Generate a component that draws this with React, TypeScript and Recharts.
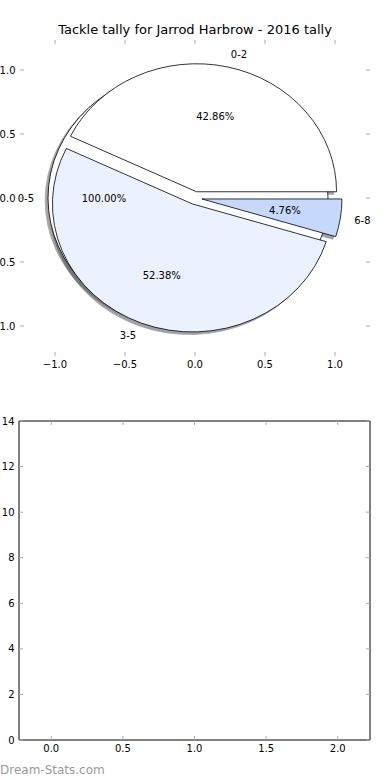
import { ComposedChart, XAxis, YAxis, PieChart, Pie } from 'recharts';

// tick values
const pieTicks = [-1, -0.5, 0, 0.5, 1];
const binTicks = [0, 0.5, 1, 1.5, 2];
const countTicks = [0, 2, 4, 6, 8, 10, 12, 14];

// tackle tally slices
const tallyBins = ['0-2', '3-5', '6-8'];
const tallyCounts = [9, 11, 1];
const tallyColors = ['#ffffff', '#ebf1fd', '#c6d9fc'];

// the single-wedge pie drawn underneath
const totalBins = ['0-5'];
const totalCounts = [21];
const totalColors = ['#ffffff'];

const FONT = '"DejaVu Sans", Verdana, sans-serif';
const RAD = Math.PI / 180;
const SQUASH = 128 / 140; // y px per unit / x px per unit in the pie axes
const EXPLODE = 0.05;
const TICK = '#aaaaaa';

const tallyData = tallyBins.map((name, i) => ({ name, value: tallyCounts[i], fill: tallyColors[i] }));
const totalData = totalBins.map((name, i) => ({ name, value: totalCounts[i], fill: totalColors[i] }));
// the axes carry no series, the tick rows just give the x axis something to hang on
const pieAxisRows = pieTicks.map((v) => ({ v }));
const binAxisRows = binTicks.map((v) => ({ v }));

function pt(cx: number, cy: number, r: number, a: number) {
  return [cx + r * Math.cos(a * RAD), cy - r * SQUASH * Math.sin(a * RAD)];
}

function wedgePath(cx: number, cy: number, r: number, a0: number, a1: number) {
  const rx = r;
  const ry = r * SQUASH;
  if (a1 - a0 >= 359.99) {
    return `M${cx + rx},${cy} A${rx},${ry} 0 1 0 ${cx - rx},${cy} A${rx},${ry} 0 1 0 ${cx + rx},${cy} Z`;
  }
  const [x0, y0] = pt(cx, cy, r, a0);
  const [x1, y1] = pt(cx, cy, r, a1);
  const large = a1 - a0 > 180 ? 1 : 0;
  return `M${cx},${cy} L${x0},${y0} A${rx},${ry} 0 ${large} 0 ${x1},${y1} Z`;
}

function darken(hex: string) {
  const n = parseInt(hex.slice(1), 16);
  const r = Math.round(((n >> 16) & 255) * 0.3);
  const g = Math.round(((n >> 8) & 255) * 0.3);
  const b = Math.round((n & 255) * 0.3);
  return `rgb(${r},${g},${b})`;
}

const explodedCenter = (p: any) => {
  const [x, y] = pt(p.cx, p.cy, p.outerRadius * EXPLODE, p.midAngle);
  return [x, y];
};

const Wedge = (p: any) => {
  const [x, y] = explodedCenter(p);
  const a0 = Math.min(p.startAngle, p.endAngle);
  const a1 = Math.max(p.startAngle, p.endAngle);
  return <path d={wedgePath(x, y, p.outerRadius, a0, a1)} fill={p.fill} stroke="#000" strokeWidth={0.8} />;
};

const WedgeShadow = (p: any) => {
  const [x, y] = explodedCenter(p);
  const a0 = Math.min(p.startAngle, p.endAngle);
  const a1 = Math.max(p.startAngle, p.endAngle);
  const ox = -0.02 * p.outerRadius;
  const oy = 0.02 * p.outerRadius * SQUASH;
  const c = darken(p.payload?.fill ?? p.fill ?? '#ffffff');
  return (
    <path d={wedgePath(x + ox, y + oy, p.outerRadius, a0, a1)} fill={c} stroke={c} strokeWidth={0.8} opacity={0.5} />
  );
};

const Nothing = () => <g />;

const renderPieLabel = (p: any) => {
  const r = p.outerRadius;
  const [nx, ny] = pt(p.cx, p.cy, r * (1.1 + EXPLODE), p.midAngle);
  const [qx, qy] = pt(p.cx, p.cy, r * (0.6 + EXPLODE), p.midAngle);
  const name = p.payload?.name ?? p.name;
  return (
    <g key={`lbl-${name}`}>
      <text x={nx} y={ny} dy="0.36em" textAnchor={nx > p.cx ? 'start' : 'end'} fontSize={10} fill="#000" fontFamily={FONT}>
        {name}
      </text>
      <text x={qx} y={qy} dy="0.36em" textAnchor="middle" fontSize={10} fill="#000" fontFamily={FONT}>
        {(p.percent * 100).toFixed(2)}%
      </text>
    </g>
  );
};

const fmtPie = (v: number) => v.toFixed(1).replace('-', '\u2212');
const fmtInt = (v: number) => String(v);

const BottomTick = ({ x, y, payload, fmt }: any) => (
  <g>
    <line x1={x} y1={y} x2={x} y2={y - 4} stroke={TICK} />
    <text x={x} y={y + 12} textAnchor="middle" fontSize={10} fill="#000" fontFamily={FONT}>
      {fmt(payload.value)}
    </text>
  </g>
);

const TopTick = ({ x, y }: any) => <line x1={x} y1={y} x2={x} y2={y + 4} stroke={TICK} />;

const LeftTick = ({ x, y, payload, fmt }: any) => (
  <g>
    <line x1={x} y1={y} x2={x + 4} y2={y} stroke={TICK} />
    <text x={x - 4.5} y={y + 3.6} textAnchor="end" fontSize={10} fill="#000" fontFamily={FONT}>
      {fmt(payload.value)}
    </text>
  </g>
);

const RightTick = ({ x, y }: any) => <line x1={x - 4} y1={y} x2={x} y2={y} stroke={TICK} />;

const axisCommon = {
  type: 'number' as const,
  tickSize: 0,
  tickMargin: 0,
  tickLine: false,
  allowDataOverflow: true,
  interval: 0 as const,
};

export default function App() {
  return (
    <div style={{ position: 'absolute', left: 0, top: 0, width: 390, height: 780, background: '#fff', fontFamily: FONT }}>
      <div
        style={{
          position: 'absolute',
          left: 0,
          top: 21,
          width: 390,
          textAlign: 'center',
          fontSize: 13,
          lineHeight: '17px',
          color: '#000',
        }}
      >
        Tackle tally for Jarrod Harbrow - 2016 tally
      </div>

      {/* pie axes: frameless, only ticks */}
      <div style={{ position: 'absolute', left: 0, top: 0 }}>
        <ComposedChart width={390} height={380} margin={{ top: 39, right: 19, bottom: 23, left: 19 }} data={pieAxisRows}>
          <XAxis
            {...axisCommon}
            xAxisId="b"
            dataKey="v"
            orientation="bottom"
            height={1}
            domain={[-1.25, 1.25]}
            ticks={pieTicks}
            axisLine={false}
            tick={(p: any) => <BottomTick {...p} fmt={fmtPie} />}
          />
          <XAxis
            {...axisCommon}
            xAxisId="t"
            dataKey="v"
            orientation="top"
            height={1}
            domain={[-1.25, 1.25]}
            ticks={pieTicks}
            axisLine={false}
            tick={(p: any) => <TopTick {...p} />}
          />
          <YAxis
            {...axisCommon}
            yAxisId="l"
            orientation="left"
            width={1}
            domain={[-1.2344, 1.2344]}
            ticks={pieTicks}
            axisLine={false}
            tick={(p: any) => <LeftTick {...p} fmt={fmtPie} />}
          />
          <YAxis
            {...axisCommon}
            yAxisId="r"
            orientation="right"
            width={1}
            domain={[-1.2344, 1.2344]}
            ticks={pieTicks}
            axisLine={false}
            tick={(p: any) => <RightTick {...p} />}
          />
        </ComposedChart>
      </div>

      {/* the pies */}
      <div style={{ position: 'absolute', left: 0, top: 0 }}>
        <PieChart width={390} height={380} margin={{ top: 0, right: 0, bottom: 0, left: 0 }}>
          <Pie data={totalData} dataKey="value" nameKey="name" cx={195} cy={198} outerRadius={140} startAngle={0} endAngle={360} shape={WedgeShadow} label={false} labelLine={false} isAnimationActive={false} />
          <Pie data={tallyData} dataKey="value" nameKey="name" cx={195} cy={198} outerRadius={140} startAngle={0} endAngle={360} shape={WedgeShadow} label={false} labelLine={false} isAnimationActive={false} />
          <Pie data={totalData} dataKey="value" nameKey="name" cx={195} cy={198} outerRadius={140} startAngle={0} endAngle={360} shape={Wedge} label={false} labelLine={false} isAnimationActive={false} />
          <Pie data={tallyData} dataKey="value" nameKey="name" cx={195} cy={198} outerRadius={140} startAngle={0} endAngle={360} shape={Wedge} label={false} labelLine={false} isAnimationActive={false} />
          <Pie data={totalData} dataKey="value" nameKey="name" cx={195} cy={198} outerRadius={140} startAngle={0} endAngle={360} shape={Nothing} label={renderPieLabel} labelLine={false} isAnimationActive={false} />
          <Pie data={tallyData} dataKey="value" nameKey="name" cx={195} cy={198} outerRadius={140} startAngle={0} endAngle={360} shape={Nothing} label={renderPieLabel} labelLine={false} isAnimationActive={false} />
        </PieChart>
      </div>

      {/* empty lower axes */}
      <div style={{ position: 'absolute', left: 0, top: 380 }}>
        <ComposedChart width={390} height={400} margin={{ top: 40, right: 19, bottom: 39, left: 18 }} data={binAxisRows}>
          <XAxis
            {...axisCommon}
            xAxisId="b"
            dataKey="v"
            orientation="bottom"
            height={1}
            domain={[-0.225, 2.225]}
            ticks={binTicks}
            axisLine={{ stroke: '#000' }}
            tick={(p: any) => <BottomTick {...p} fmt={fmtPie} />}
          />
          <XAxis
            {...axisCommon}
            xAxisId="t"
            dataKey="v"
            orientation="top"
            height={1}
            domain={[-0.225, 2.225]}
            ticks={binTicks}
            axisLine={{ stroke: '#000' }}
            tick={(p: any) => <TopTick {...p} />}
          />
          <YAxis
            {...axisCommon}
            yAxisId="l"
            orientation="left"
            width={1}
            domain={[0, 14]}
            ticks={countTicks}
            axisLine={{ stroke: '#000' }}
            tick={(p: any) => <LeftTick {...p} fmt={fmtInt} />}
          />
          <YAxis
            {...axisCommon}
            yAxisId="r"
            orientation="right"
            width={1}
            domain={[0, 14]}
            ticks={countTicks}
            axisLine={{ stroke: '#000' }}
            tick={(p: any) => <RightTick {...p} />}
          />
        </ComposedChart>
      </div>

      <div
        style={{
          position: 'absolute',
          left: 0,
          top: 762,
          fontSize: 12,
          lineHeight: '16px',
          color: '#9a9a9a',
        }}
      >
        Dream-Stats.com
      </div>
    </div>
  );
}
